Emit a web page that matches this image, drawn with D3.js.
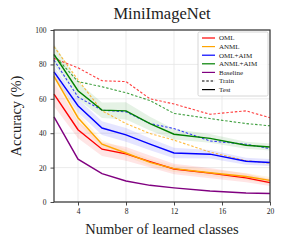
<!DOCTYPE html>
<html>
<head>
<meta charset="utf-8">
<script src="https://cdn.jsdelivr.net/npm/d3@7"></script>
<style>
body { margin: 0; background: #fff; }
text { font-family: "Liberation Serif", serif; }
</style>
</head>
<body>
<script>
// x values (number of learned classes)
var classes = [2, 4, 6, 8, 10, 12, 15, 18, 20];

// test accuracy (solid)
var omlTest      = [62.7, 42, 30.7, 28, 23.5, 19.2, 16.8, 14, 11.3];
var anmlTest     = [73, 49, 33.6, 28.5, 23, 19.4, 17, 14.8, 12.6];
var omlAimTest   = [75.7, 56, 43, 39, 33.6, 28.5, 27.8, 23.7, 23];
var anmlAimTest  = [85.8, 64.7, 53.4, 53, 45.6, 39.4, 37, 33, 32];
var baselineTest = [49.5, 24.9, 16.5, 12.2, 9.7, 8.2, 6.4, 5.2, 4.9];

// train accuracy (dashed)
var omlTrain     = [83.5, 78, 70.5, 70, 60, 57, 51, 53, 49];
var anmlTrain    = [90.3, 71, 53, 45.6, 39.8, 36, 29, 24, 22.5];
var omlAimTrain  = [82.5, 61, 53.4, 52.4, 45.6, 42.7, 35.5, 33.6, 31];
var anmlAimTrain = [85.4, 70, 67, 63.5, 59, 51.5, 48.5, 45.6, 44.3];

// spread of test accuracy (shaded bands)
var omlStd      = [7, 5, 4, 4, 3.5, 3, 3, 2.5, 2];
var anmlStd     = [3, 3, 2.5, 2, 2, 2, 2, 2, 2];
var omlAimStd   = [3, 4, 4, 4, 3.5, 3, 2.5, 2, 2];
var anmlAimStd  = [6, 5, 4.5, 5, 4, 3, 2.5, 2, 2];

var seriesNames = ["OML", "ANML", "OML+AIM", "ANML+AIM", "Baseline"];
var seriesColors = ["#ff0000", "#ffa500", "#0000ff", "#008000", "#800080"];

var xTicks = [4, 8, 12, 16, 20];
var yTicks = [0, 20, 40, 60, 80, 100];

var margin = {top: 30, right: 16, bottom: 45, left: 54},
    width = 286 - margin.left - margin.right,
    height = 247 - margin.top - margin.bottom;

var svg = d3.select("body").append("svg")
    .attr("width", 286)
    .attr("height", 247);

var g = svg.append("g")
    .attr("transform", "translate(" + margin.left + "," + margin.top + ")");

var xScale = d3.scaleLinear().domain([2, 20]).range([0, width]);
var yScale = d3.scaleLinear().domain([0, 100]).range([height, 0]);

// grid
g.append("g").selectAll("line").data(xTicks).enter().append("line")
    .attr("x1", function(d) { return xScale(d); })
    .attr("x2", function(d) { return xScale(d); })
    .attr("y1", 0).attr("y2", height)
    .attr("stroke", "#e6e6e6").attr("stroke-width", 0.8);
g.append("g").selectAll("line").data(yTicks).enter().append("line")
    .attr("y1", function(d) { return yScale(d); })
    .attr("y2", function(d) { return yScale(d); })
    .attr("x1", 0).attr("x2", width)
    .attr("stroke", "#e6e6e6").attr("stroke-width", 0.8);

var line = d3.line()
    .x(function(d, i) { return xScale(classes[i]); })
    .y(function(d) { return yScale(d); });

var band = function(mean, sd) {
    return d3.area()
        .x(function(d, i) { return xScale(classes[i]); })
        .y0(function(d, i) { return yScale(mean[i] - sd[i]); })
        .y1(function(d, i) { return yScale(mean[i] + sd[i]); })(mean);
};

var bands = [[omlTest, omlStd, 0], [anmlTest, anmlStd, 1], [omlAimTest, omlAimStd, 2], [anmlAimTest, anmlAimStd, 3]];
bands.forEach(function(b) {
    g.append("path")
        .attr("d", band(b[0], b[1]))
        .attr("fill", seriesColors[b[2]])
        .attr("fill-opacity", 0.1)
        .attr("stroke", "none");
});

var trains = [omlTrain, anmlTrain, omlAimTrain, anmlAimTrain];
trains.forEach(function(s, i) {
    g.append("path")
        .attr("d", line(s))
        .attr("fill", "none")
        .attr("stroke", seriesColors[i])
        .attr("stroke-opacity", 0.75)
        .attr("stroke-width", 1.1)
        .attr("stroke-dasharray", "2.5,1.8");
});

var tests = [omlTest, anmlTest, omlAimTest, anmlAimTest, baselineTest];
tests.forEach(function(s, i) {
    g.append("path")
        .attr("d", line(s))
        .attr("fill", "none")
        .attr("stroke", seriesColors[i])
        .attr("stroke-width", 1.4);
});

// frame
g.append("rect")
    .attr("width", width).attr("height", height)
    .attr("fill", "none").attr("stroke", "#333").attr("stroke-width", 1.2);

var xAxis = d3.axisBottom(xScale).tickValues(xTicks).tickSize(3.5).tickPadding(3.5);
var yAxis = d3.axisLeft(yScale).tickValues(yTicks).tickSize(3.5).tickPadding(4);

var gx = g.append("g").attr("transform", "translate(0," + height + ")").call(xAxis);
var gy = g.append("g").call(yAxis);
[gx, gy].forEach(function(a) {
    a.select(".domain").remove();
    a.selectAll("line").attr("stroke", "#333").attr("stroke-width", 0.9);
    a.selectAll("text").attr("font-size", "7.5px").attr("fill", "#222")
        .style("font-family", "'Liberation Serif', serif");
});

// titles
svg.append("text")
    .attr("x", margin.left + width / 2).attr("y", 19)
    .attr("text-anchor", "middle")
    .attr("font-size", "16.5px").attr("fill", "#222")
    .text("MiniImageNet");

svg.append("text")
    .attr("x", margin.left + width / 2).attr("y", 234)
    .attr("text-anchor", "middle")
    .attr("font-size", "14.5px").attr("fill", "#222")
    .text("Number of learned classes");

svg.append("text")
    .attr("transform", "translate(21," + (margin.top + height / 2) + ") rotate(-90)")
    .attr("text-anchor", "middle")
    .attr("font-size", "14.5px").attr("fill", "#222")
    .text("Accuracy (%)");

// legend
var legendItems = seriesNames.map(function(n, i) { return {name: n, color: seriesColors[i], dash: null}; });
legendItems.push({name: "Train", color: "#000", dash: "2.5,1.8"});
legendItems.push({name: "Test", color: "#000", dash: null});

var lg = g.append("g").attr("transform", "translate(" + (width - 72) + ",2)");
lg.append("rect")
    .attr("width", 70).attr("height", 64)
    .attr("fill", "#fff").attr("fill-opacity", 0.85)
    .attr("stroke", "#ccc").attr("stroke-width", 0.8).attr("rx", 1.5);
var li = lg.selectAll(".li").data(legendItems).enter().append("g")
    .attr("transform", function(d, i) { return "translate(4," + (6 + i * 8.6) + ")"; });
li.append("line")
    .attr("x1", 0).attr("x2", 13).attr("y1", 0).attr("y2", 0)
    .attr("stroke", function(d) { return d.color; })
    .attr("stroke-width", 1.2)
    .attr("stroke-dasharray", function(d) { return d.dash; });
li.append("text")
    .attr("x", 17).attr("y", 2.4)
    .attr("font-size", "7px").attr("fill", "#222")
    .text(function(d) { return d.name; });
</script>
</body>
</html>
